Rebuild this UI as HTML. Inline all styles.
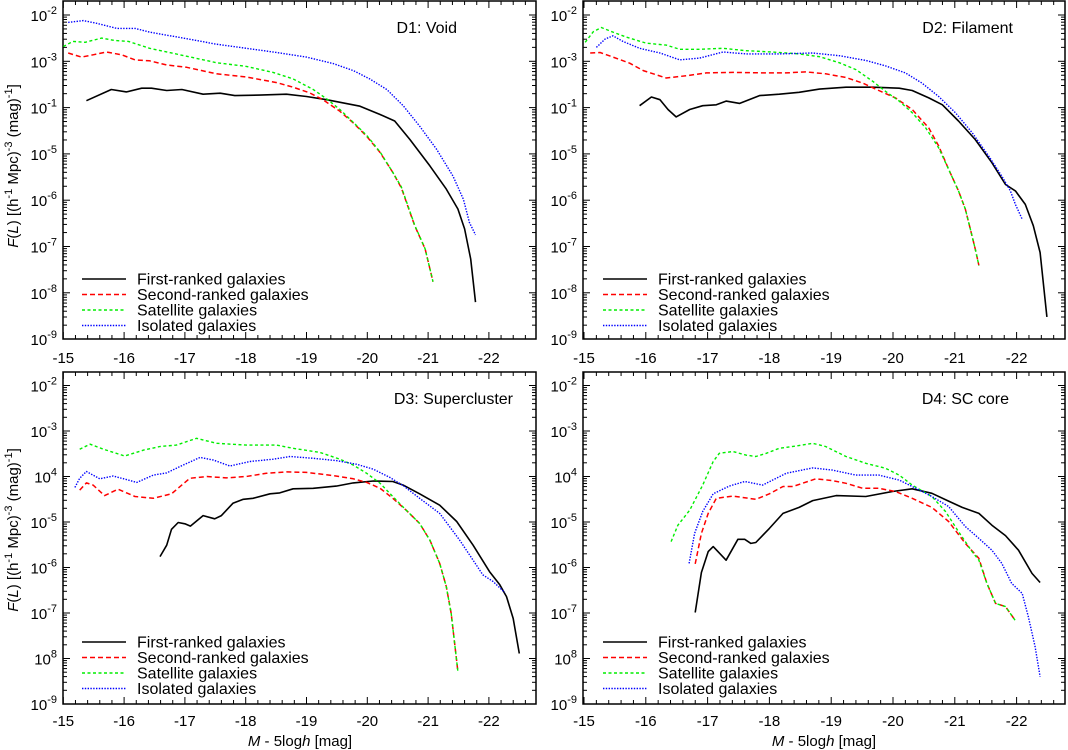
<!DOCTYPE html>
<html><head><meta charset="utf-8">
<style>
html,body{margin:0;padding:0;background:#fff;}
svg{display:block;font-family:"Liberation Sans",Arial,sans-serif;}
</style></head>
<body>
<svg id="chart" width="1068" height="750" viewBox="0 0 1068 750" xmlns="http://www.w3.org/2000/svg"></svg>
<script>
// ---- data (magnitude |M-5logh|, log10 F(L)) ----
const xTicks = [-15,-16,-17,-18,-19,-20,-21,-22];
const yTickLabelsTop = [["10","-2"],["10","-3"],["10","-1"],["10","-5"],["10","-6"],["10","-7"],["10","-8"],["10","-9"]];
const yTickLabelsBottom = [["10","-2"],["10","-3"],["10","4"],["10","-5"],["10","-6"],["10","-7"],["10","8"],["10","-9"]];
const yDecades = [-2,-3,-4,-5,-6,-7,-8,-9];
const seriesNames = ["First-ranked galaxies","Second-ranked galaxies","Satellite galaxies","Isolated galaxies"];
const panelTitles = ["D1: Void","D2: Filament","D3: Supercluster","D4: SC core"];

// D1
const d1FirstM = [15.38,15.79,16.04,16.29,16.45,16.70,16.95,17.30,17.58,17.82,18.23,18.67,19.0,19.33,19.88,20.21,20.45,20.70,21.03,21.30,21.49,21.60,21.70,21.78];
const d1FirstL = [-3.85,-3.61,-3.66,-3.58,-3.58,-3.63,-3.61,-3.71,-3.69,-3.74,-3.73,-3.71,-3.76,-3.83,-3.97,-4.15,-4.29,-4.69,-5.26,-5.76,-6.19,-6.62,-7.27,-8.20];
const d1SecondM = [15.08,15.30,15.49,15.71,15.96,16.18,16.42,16.70,17.03,17.52,18.01,18.51,18.78,19.05,19.27,19.55,19.77,19.99,20.21,20.42,20.56,20.78,20.95,21.08];
const d1SecondL = [-2.82,-2.91,-2.86,-2.80,-2.86,-2.97,-2.99,-3.08,-3.13,-3.27,-3.34,-3.46,-3.56,-3.68,-3.83,-4.08,-4.33,-4.62,-4.97,-5.40,-5.73,-6.55,-7.05,-7.76];
const d1SatM = [15.0,15.16,15.36,15.63,15.85,16.07,16.42,16.92,17.52,18.01,18.45,18.78,19.11,19.33,19.55,19.77,19.99,20.21,20.42,20.56,20.78,20.95,21.08];
const d1SatL = [-2.68,-2.57,-2.59,-2.50,-2.55,-2.57,-2.72,-2.86,-3.03,-3.11,-3.24,-3.38,-3.61,-3.81,-4.04,-4.32,-4.60,-4.96,-5.40,-5.71,-6.54,-7.05,-7.76];
const d1IsoM = [15.08,15.33,15.55,15.88,16.18,16.42,16.97,17.52,18.01,18.51,19.0,19.44,19.77,20.04,20.32,20.59,20.86,21.14,21.41,21.58,21.68,21.78];
const d1IsoL = [-2.16,-2.12,-2.18,-2.29,-2.29,-2.37,-2.50,-2.63,-2.72,-2.81,-2.91,-3.05,-3.20,-3.38,-3.61,-3.96,-4.40,-4.90,-5.48,-5.98,-6.48,-6.75];
// D2
const d2FirstM = [15.90,16.09,16.23,16.36,16.49,16.71,16.92,17.14,17.30,17.52,17.84,18.16,18.48,18.81,19.24,19.67,20.10,20.31,20.58,20.80,21.06,21.33,21.60,21.82,21.98,22.14,22.27,22.38,22.49];
const d2FirstL = [-3.96,-3.77,-3.83,-4.04,-4.20,-4.04,-3.96,-3.94,-3.86,-3.91,-3.74,-3.71,-3.67,-3.60,-3.56,-3.56,-3.58,-3.63,-3.79,-3.94,-4.29,-4.69,-5.19,-5.66,-5.80,-6.09,-6.55,-7.13,-8.52];
const d2SecondM = [15.10,15.26,15.47,15.74,15.96,16.33,16.66,16.98,17.41,17.95,18.27,18.59,18.91,19.24,19.51,19.77,20.04,20.31,20.58,20.74,20.90,21.06,21.17,21.25,21.33,21.39];
const d2SecondL = [-2.82,-2.81,-2.91,-3.04,-3.20,-3.36,-3.31,-3.25,-3.24,-3.25,-3.25,-3.23,-3.27,-3.35,-3.47,-3.63,-3.79,-4.04,-4.44,-4.83,-5.33,-5.80,-6.19,-6.62,-7.05,-7.41];
const d2SatM = [15.02,15.15,15.28,15.45,15.69,16.01,16.33,16.55,16.87,17.25,17.62,18.05,18.48,18.81,19.13,19.40,19.67,19.88,20.10,20.31,20.53,20.74,20.90,21.06,21.17,21.25,21.33,21.39];
const d2SatL = [-2.59,-2.36,-2.27,-2.36,-2.48,-2.61,-2.65,-2.74,-2.74,-2.72,-2.77,-2.80,-2.84,-2.90,-3.03,-3.18,-3.43,-3.65,-3.86,-4.11,-4.44,-4.87,-5.33,-5.80,-6.19,-6.62,-7.05,-7.41];
const d2IsoM = [15.20,15.34,15.47,15.63,15.90,16.23,16.55,16.87,17.25,17.62,18.16,18.70,19.13,19.56,19.88,20.20,20.47,20.74,21.01,21.28,21.55,21.76,21.90,21.98,22.09];
const d2IsoL = [-2.70,-2.52,-2.45,-2.57,-2.72,-2.82,-2.97,-2.93,-2.80,-2.84,-2.84,-2.82,-2.88,-2.98,-3.10,-3.25,-3.47,-3.76,-4.11,-4.54,-5.05,-5.48,-5.80,-6.09,-6.41];
// D3
const d3FirstM = [16.59,16.70,16.78,16.89,17.0,17.09,17.30,17.49,17.60,17.79,17.96,18.12,18.40,18.56,18.78,19.11,19.49,19.77,20.10,20.42,20.59,20.86,21.19,21.47,21.74,22.01,22.18,22.29,22.40,22.50];
const d3FirstL = [-5.76,-5.51,-5.16,-5.01,-5.04,-5.09,-4.86,-4.93,-4.86,-4.59,-4.50,-4.48,-4.38,-4.36,-4.27,-4.26,-4.21,-4.14,-4.10,-4.11,-4.19,-4.38,-4.63,-4.99,-5.51,-6.09,-6.38,-6.64,-7.12,-7.89];
const d3SecondM = [15.27,15.38,15.49,15.68,15.90,16.18,16.48,16.78,17.08,17.36,17.68,18.01,18.34,18.67,19.0,19.44,19.77,19.99,20.21,20.42,20.64,20.86,21.03,21.19,21.30,21.38,21.49];
const d3SecondL = [-4.30,-4.14,-4.19,-4.42,-4.28,-4.44,-4.48,-4.38,-4.04,-4.00,-4.03,-4.00,-3.93,-3.90,-3.91,-3.98,-4.05,-4.13,-4.26,-4.48,-4.74,-5.03,-5.40,-5.91,-6.42,-7.01,-8.29];
const d3SatM = [15.27,15.44,15.66,16.01,16.32,16.59,16.86,17.19,17.52,18.01,18.51,18.78,19.22,19.55,19.77,19.99,20.21,20.42,20.64,20.86,21.03,21.19,21.30,21.38,21.49];
const d3SatL = [-3.40,-3.29,-3.40,-3.55,-3.42,-3.34,-3.31,-3.16,-3.27,-3.31,-3.31,-3.38,-3.47,-3.62,-3.75,-3.93,-4.15,-4.44,-4.74,-5.03,-5.40,-5.91,-6.42,-7.01,-8.29];
const d3IsoM = [15.19,15.27,15.38,15.60,15.82,16.21,16.48,16.70,16.92,17.25,17.47,17.74,18.07,18.45,18.73,19.11,19.49,19.82,20.10,20.37,20.59,20.86,21.19,21.52,21.74,21.90,22.07,22.26];
const d3IsoL = [-4.24,-4.04,-3.89,-4.05,-3.99,-4.13,-3.97,-3.92,-3.78,-3.58,-3.64,-3.77,-3.67,-3.62,-3.56,-3.60,-3.65,-3.73,-3.84,-4.02,-4.20,-4.48,-4.81,-5.40,-5.84,-6.16,-6.31,-6.55];
// D4
const d4FirstM = [16.80,16.90,17.01,17.09,17.30,17.49,17.60,17.70,17.78,18.0,18.22,18.48,18.70,19.08,19.56,19.99,20.31,20.63,20.90,21.12,21.39,21.60,21.82,22.03,22.25,22.38];
const d4FirstL = [-6.99,-6.11,-5.65,-5.54,-5.84,-5.38,-5.38,-5.47,-5.45,-5.14,-4.81,-4.68,-4.53,-4.42,-4.44,-4.33,-4.27,-4.37,-4.54,-4.68,-4.81,-5.07,-5.30,-5.62,-6.13,-6.33];
const d4SecondM = [16.80,16.90,17.01,17.14,17.41,17.78,18.0,18.22,18.38,18.75,19.02,19.24,19.51,19.77,20.04,20.31,20.63,20.90,21.17,21.39,21.52,21.66,21.82,21.98];
const d4SecondL = [-5.92,-5.25,-4.81,-4.48,-4.43,-4.50,-4.38,-4.22,-4.22,-4.05,-4.09,-4.15,-4.26,-4.26,-4.33,-4.48,-4.68,-4.99,-5.47,-5.80,-6.35,-6.79,-6.86,-7.17];
const d4SatM = [16.41,16.52,16.71,16.92,17.09,17.19,17.41,17.62,17.78,17.95,18.16,18.43,18.70,18.91,19.24,19.56,19.88,20.10,20.31,20.63,20.85,21.06,21.28,21.39,21.52,21.66,21.82,21.98];
const d4SatL = [-5.43,-5.07,-4.74,-4.19,-3.67,-3.49,-3.45,-3.53,-3.56,-3.49,-3.38,-3.33,-3.27,-3.34,-3.56,-3.71,-3.82,-3.97,-4.19,-4.44,-4.77,-5.21,-5.65,-5.84,-6.35,-6.79,-6.86,-7.17];
const d4IsoM = [16.70,16.79,16.92,17.09,17.35,17.60,17.89,18.05,18.27,18.70,19.02,19.40,19.77,20.10,20.37,20.63,20.90,21.17,21.39,21.60,21.76,21.92,22.09,22.19,22.30,22.38];
const d4IsoL = [-5.91,-5.25,-4.77,-4.38,-4.21,-4.11,-4.19,-4.08,-3.93,-3.81,-3.86,-3.97,-3.97,-4.08,-4.26,-4.44,-4.66,-5.10,-5.36,-5.62,-5.91,-6.35,-6.57,-7.08,-7.74,-8.40];

const NS = "http://www.w3.org/2000/svg";
const svg = document.getElementById('chart');
function mk(tag, attrs, parent){const e=document.createElementNS(NS,tag);for(const k in attrs)e.setAttribute(k,attrs[k]);(parent||svg).appendChild(e);return e;}

const styles = [
  {stroke:"#000000", dash:"", w:1.6, name:"first-ranked"},
  {stroke:"#ff0000", dash:"5,3", w:1.5, name:"second-ranked"},
  {stroke:"#00ee00", dash:"3,2.5", w:1.4, name:"satellite"},
  {stroke:"#0000ff", dash:"1.4,1.4", w:1.4, name:"isolated"}
];

const panels = [
  {left:63, right:536, top:1, bottom:339, x0:63.3, pxMag:60.8, yRef:15, pxDec:46.3, labels:yTickLabelsTop, labX:57, titleX:457, titleY:33, legX:82, legY:279, xLabY:363, data:[[d1FirstM,d1FirstL],[d1SecondM,d1SecondL],[d1SatM,d1SatL],[d1IsoM,d1IsoL]]},
  {left:583, right:1065, top:1, bottom:339, x0:584, pxMag:61.8, yRef:15, pxDec:46.3, labels:yTickLabelsTop, labX:577, titleX:1013, titleY:33, legX:603, legY:279, xLabY:363, data:[[d2FirstM,d2FirstL],[d2SecondM,d2SecondL],[d2SatM,d2SatL],[d2IsoM,d2IsoL]]},
  {left:63, right:536, top:372, bottom:704, x0:63.3, pxMag:60.8, yRef:385.5, pxDec:45.5, labels:yTickLabelsBottom, labX:57, titleX:513, titleY:404, legX:82, legY:642, xLabY:726, data:[[d3FirstM,d3FirstL],[d3SecondM,d3SecondL],[d3SatM,d3SatL],[d3IsoM,d3IsoL]]},
  {left:583, right:1065, top:372, bottom:704, x0:584, pxMag:61.8, yRef:385.5, pxDec:45.5, labels:yTickLabelsBottom, labX:577, titleX:1009, titleY:404, legX:603, legY:642, xLabY:726, data:[[d4FirstM,d4FirstL],[d4SecondM,d4SecondL],[d4SatM,d4SatL],[d4IsoM,d4IsoL]]}
];

panels.forEach((p, pi) => {
  const g = mk('g', {});
  
  
  const xs = m => p.x0 + (m - 15) * p.pxMag;
  const ys = l => p.yRef + (-2 - l) * p.pxDec;
  // clip
  const cid = 'clip' + pi;
  const cp = mk('clipPath', {id:cid}, g);
  mk('rect', {x:p.left, y:p.top, width:p.right-p.left, height:p.bottom-p.top}, cp);
  // ticks
  const tg = mk('g', {stroke:'#000', 'stroke-width':1}, g);
  for (let m = 15; m <= 22.81; m += 0.2) {
    const x = xs(m);
    if (x > p.right - 1) break;
    const major = Math.abs(m - Math.round(m)) < 0.01;
    const L = major ? 7 : 4;
    mk('line', {x1:x, y1:p.bottom, x2:x, y2:p.bottom-L}, tg);
    mk('line', {x1:x, y1:p.top, x2:x, y2:p.top+L}, tg);
  }
  for (let d = -2; d >= -9; d--) {
    for (let k = 1; k <= 9; k++) {
      const l = d + Math.log10(k);
      const y = ys(l);
      if (y < p.top + 1 || y > p.bottom) continue;
      const L = k === 1 ? 7 : 4;
      mk('line', {x1:p.left, y1:y, x2:p.left+L, y2:y}, tg);
      mk('line', {x1:p.right, y1:y, x2:p.right-L, y2:y}, tg);
    }
    // minor ticks above -2
  }
  for (let k = 2; k <= 9; k++) {
    const y = ys(-2 + Math.log10(k) - 0) ; // in decade -2..-1
    const yy = ys(-1 - 1 + Math.log10(k)) ;
  }
  [2,3,4,5].forEach(k => { const y = ys(-2 + Math.log10(k)); if (y > p.top+1) { mk('line',{x1:p.left,y1:y,x2:p.left+4,y2:y},tg); mk('line',{x1:p.right,y1:y,x2:p.right-4,y2:y},tg);} });
  // frame
  const fr = mk('rect', {x:p.left, y:p.top, width:p.right-p.left, height:p.bottom-p.top, fill:'none', stroke:'#000', 'stroke-width':1.5}, g);
  
  
  // y labels
  yDecades.forEach((d, i) => {
    const t = mk('text', {x:p.labX, y:ys(d)+6, 'text-anchor':'end', 'font-size':15, fill:'#000'}, g);
    
    
    const a = mk('tspan', {}, t); a.textContent = p.labels[i][0];
    const b = mk('tspan', {dy:-7, 'font-size':11}, t); b.textContent = p.labels[i][1];
  });
  // x labels
  xTicks.forEach(v => {
    const t = mk('text', {x:xs(-v), y:p.xLabY, 'text-anchor':'middle', 'font-size':15, fill:'#000'}, g);
    
    
    t.textContent = String(v);
  });
  // title
  const tt = mk('text', {x:p.titleX, y:p.titleY, 'text-anchor':'end', 'font-size':16, fill:'#000'}, g);
  
  
  tt.textContent = panelTitles[pi];
  // series
  const sg = mk('g', {'clip-path':'url(#'+cid+')'}, g);
  p.data.forEach((s, si) => {
    const st = styles[si];
    const pts = s[0].map((m, i) => xs(m).toFixed(1) + ',' + ys(s[1][i]).toFixed(1)).join(' ');
    const pl = mk('polyline', {points:pts, fill:'none', stroke:st.stroke, 'stroke-width':st.w, 'stroke-dasharray':st.dash, 'stroke-linejoin':'round'}, sg);
    
    
  });
  // legend
  const lg = mk('g', {}, g);
  
  
  seriesNames.forEach((n, si) => {
    const st = styles[si];
    const y = p.legY + si * 15.5;
    const ln = mk('line', {x1:p.legX, y1:y, x2:p.legX+44, y2:y, stroke:st.stroke, 'stroke-width':st.w, 'stroke-dasharray':st.dash}, lg);
    
    
    const t = mk('text', {x:p.legX+55, y:y+5.5, 'font-size':16, fill:'#000'}, lg);
    
    
    t.textContent = n;
  });
});

// y-axis titles
[166, 530].forEach(cy => {
  const t = mk('text', {x:0, y:0, transform:'translate(18,'+cy+') rotate(-90)', 'text-anchor':'middle', 'font-size':15, fill:'#000'});
  
  
  t.innerHTML = '<tspan font-style="italic">F</tspan>(<tspan font-style="italic">L</tspan>)  [(h<tspan dy="-6" font-size="11">-1</tspan><tspan dy="6"> Mpc)</tspan><tspan dy="-6" font-size="11">-3</tspan><tspan dy="6"> (mag)</tspan><tspan dy="-6" font-size="11">-1</tspan><tspan dy="6">]</tspan>';
});
// x-axis titles
[300, 824].forEach(cx => {
  const t = mk('text', {x:cx, y:746, 'text-anchor':'middle', 'font-size':15, fill:'#000'});
  
  
  t.innerHTML = '<tspan font-style="italic">M</tspan> - 5log<tspan font-style="italic">h</tspan>  [mag]';
});
</script>
</body></html>
